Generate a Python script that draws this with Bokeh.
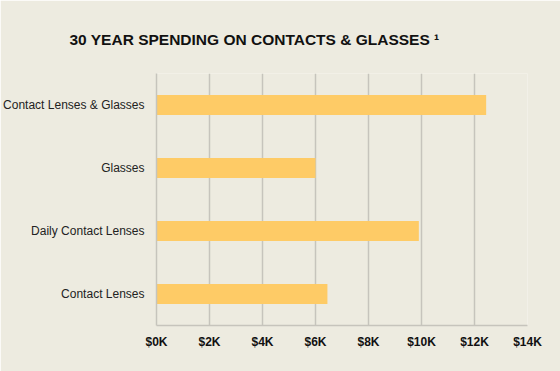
from bokeh.plotting import figure
from bokeh.models import Range1d, FactorRange, FixedTicker, PrintfTickFormatter, Title
from bokeh.embed import file_html
from bokeh.resources import INLINE

categories = ["Contact Lenses", "Daily Contact Lenses", "Glasses", "Contact Lenses & Glasses"]
spending_k = [6.45, 9.9, 6.0, 12.44]
x_ticks = [0, 2, 4, 6, 8, 10, 12, 14]
title_text = "30 YEAR SPENDING ON CONTACTS & GLASSES \u00b9"

BG = "#EDEBE0"
GRID = "#C6C4BC"
FONT = "Liberation Sans"

p = figure(
    y_range=FactorRange(*categories),
    x_range=Range1d(0, 14),
    width=560, height=371,
    min_border_left=156, min_border_right=33,
    min_border_top=73, min_border_bottom=46,
    output_backend="svg", toolbar_location=None,
    background_fill_color=BG, border_fill_color=BG,
)
p.outline_line_color = None

p.hbar(y=categories, right=spending_k, left=0, height=0.32, color="#FECB66", line_color=None)

p.title = Title(text=title_text,
                text_font=FONT, text_font_size="15.5px", text_font_style="bold",
                text_color="#111111", align="left", offset=-87, standoff=51)

p.xaxis.ticker = FixedTicker(ticks=x_ticks)
p.xaxis.formatter = PrintfTickFormatter(format="$%dK")
p.xaxis.major_label_text_font = FONT
p.xaxis.major_label_text_font_size = "12px"
p.xaxis.major_label_text_font_style = "bold"
p.xaxis.major_label_text_color = "#111111"
p.xaxis.major_tick_line_color = None
p.xaxis.major_tick_out = 0
p.xaxis.major_tick_in = 0
p.xaxis.minor_tick_line_color = None
p.xaxis.axis_line_color = GRID
p.xaxis.axis_line_width = 1.5
p.xaxis.major_label_standoff = 9

p.yaxis.major_label_text_font = FONT
p.yaxis.major_label_text_font_size = "12px"
p.yaxis.major_label_text_color = "#222222"
p.yaxis.major_tick_line_color = None
p.yaxis.major_tick_out = 0
p.yaxis.major_tick_in = 0
p.yaxis.axis_line_color = GRID
p.yaxis.axis_line_width = 1.5
p.yaxis.major_label_standoff = 12

p.xgrid.grid_line_color = GRID
p.xgrid.grid_line_width = 1.5
p.ygrid.grid_line_color = None

open("out.html", "w").write(file_html(p, INLINE))
